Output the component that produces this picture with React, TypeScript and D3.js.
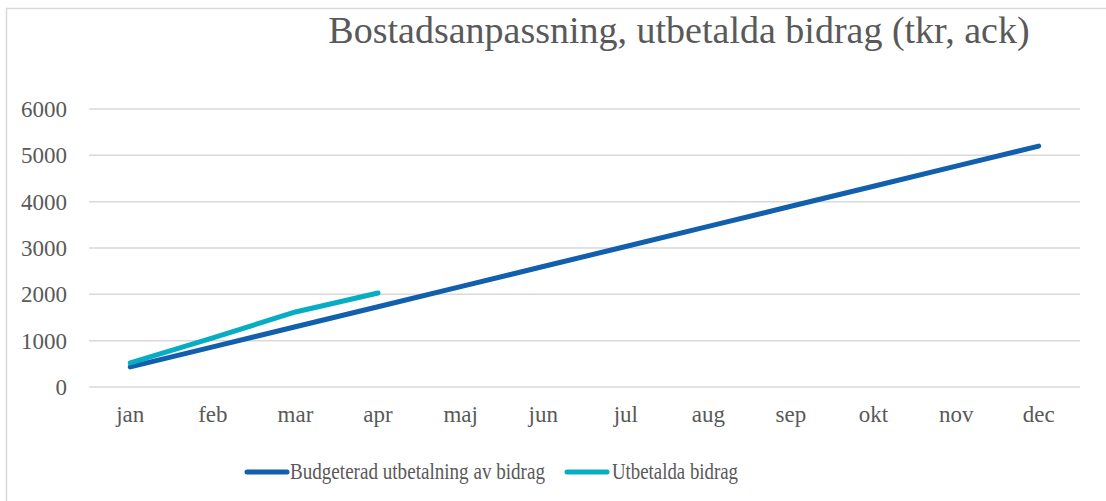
import React from 'react';
import * as d3 from 'd3';

const months = ['jan', 'feb', 'mar', 'apr', 'maj', 'jun', 'jul', 'aug', 'sep', 'okt', 'nov', 'dec'];
const budget = [433, 867, 1300, 1733, 2167, 2600, 3033, 3467, 3900, 4333, 4767, 5200];
const paid = [520, 1060, 1620, 2030];
const yTicks = [0, 1000, 2000, 3000, 4000, 5000, 6000];

const W = 1106, H = 501;
const FONT = 'Liberation Serif';
const TXT = '#595959';
const BUDGET_COL = '#115FAD';
const PAID_COL = '#07ADC3';

const App = () => {
  const x = d3.scaleBand<string>().domain(months).range([89, 1080]);
  const y = d3.scaleLinear().domain([0, 6000]).range([387, 109]);
  const cx = (m: string) => (x(m) as number) + x.bandwidth() / 2;

  const line = d3.line<number>()
    .x((_, i) => cx(months[i]))
    .y(d => y(d));

  return (
    <svg width={W} height={H} style={{ position: 'absolute', left: 0, top: 0 }}>
      <rect x={0} y={0} width={W} height={H} fill="white" />
      {/* only top and left frame edges are visible in the crop */}
      <path d="M6.5,501V8.5H1106" fill="none" stroke="#d9d9d9" strokeWidth={1.5} />
      <text x={679} y={43} textAnchor="middle" fontFamily={FONT} fontSize={38} fill={TXT}>
        Bostadsanpassning, utbetalda bidrag (tkr, ack)
      </text>
      {yTicks.map(t => (
        <g key={t}>
          <line x1={89} x2={1080} y1={y(t)} y2={y(t)} stroke="#d9d9d9" strokeWidth={1.5} />
          <text x={67} y={y(t) + 8} textAnchor="end" fontFamily={FONT} fontSize={23} fill={TXT}>{t}</text>
        </g>
      ))}
      {months.map(m => (
        <text key={m} x={cx(m)} y={422} textAnchor="middle" fontFamily={FONT} fontSize={23} fill={TXT}>{m}</text>
      ))}
      <path d={line(budget) || ''} fill="none" stroke={BUDGET_COL} strokeWidth={5} strokeLinecap="round" strokeLinejoin="round" />
      <path d={line(paid) || ''} fill="none" stroke={PAID_COL} strokeWidth={5} strokeLinecap="round" strokeLinejoin="round" />
      <line x1={247} x2={287} y1={472} y2={472} stroke={BUDGET_COL} strokeWidth={5} strokeLinecap="round" />
      <text x={290} y={479} fontFamily={FONT} fontSize={23} fill={TXT} textLength={255} lengthAdjust="spacingAndGlyphs">Budgeterad utbetalning av bidrag</text>
      <line x1={567} x2={607} y1={472} y2={472} stroke={PAID_COL} strokeWidth={5} strokeLinecap="round" />
      <text x={612} y={479} fontFamily={FONT} fontSize={23} fill={TXT} textLength={126} lengthAdjust="spacingAndGlyphs">Utbetalda bidrag</text>
    </svg>
  );
};

export default App;
